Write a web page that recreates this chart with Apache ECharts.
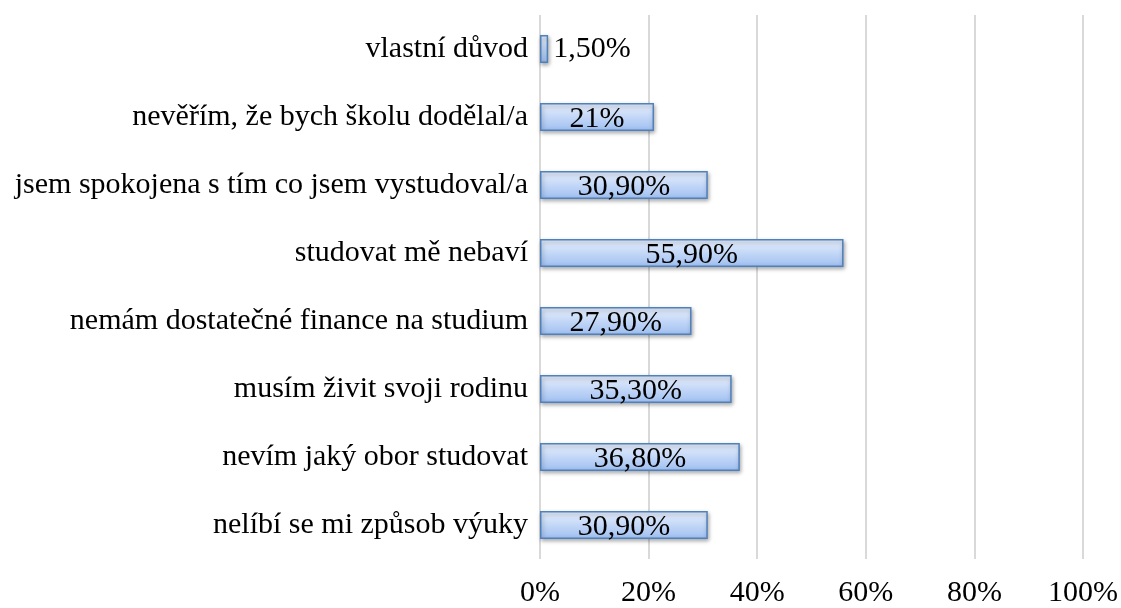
<!DOCTYPE html>
<html>
<head>
<meta charset="utf-8">
<script src="https://cdn.jsdelivr.net/npm/echarts@6/dist/echarts.min.js"></script>
<style>
  html, body { margin: 0; padding: 0; background: #fff; }
  #main { width: 1121px; height: 608px; }
</style>
</head>
<body>
<div id="main"></div>
<script>
// categories from bottom to top (category axis starts at the bottom)
var categories = [
    'nelíbí se mi způsob výuky',
    'nevím jaký obor studovat',
    'musím živit svoji rodinu',
    'nemám dostatečné finance na studium',
    'studovat mě nebaví',
    'jsem spokojena s tím co jsem vystudoval/a',
    'nevěřím, že bych školu dodělal/a',
    'vlastní důvod'
];
var values = [30.9, 36.8, 35.3, 27.9, 55.9, 30.9, 21, 1.5];
var valueLabels = ['30,90%', '36,80%', '35,30%', '27,90%', '55,90%', '30,90%', '21%', '1,50%'];

var chart = echarts.init(document.getElementById('main'));

var fontFamily = '"Liberation Serif", "Times New Roman", serif';

var data = values.map(function(v, i) {
    var item = { value: v };
    // the tiny bar gets its label outside
    if (v < 5) {
        item.label = { position: 'right', distance: 5, offset: [0, 0] };
    }
    return item;
});

var option = {
    animation: false,
    grid: {
        left: 540,
        right: 34,
        top: 15,
        bottom: 47
    },
    xAxis: {
        type: 'value',
        min: 0,
        max: 100,
        interval: 20,
        axisLine: { show: false },
        axisTick: { show: false },
        axisLabel: {
            formatter: '{value}%',
            color: '#000',
            fontSize: 30,
            fontFamily: fontFamily,
            margin: 19
        },
        splitLine: {
            lineStyle: { color: '#d9d9d9', width: 2 }
        }
    },
    yAxis: {
        type: 'category',
        data: categories,
        axisLine: { show: false },
        axisTick: { show: false },
        axisLabel: {
            color: '#000',
            fontSize: 30,
            fontFamily: fontFamily,
            margin: 12
        }
    },
    series: [{
        type: 'bar',
        data: data,
        barWidth: 28,
        itemStyle: {
            color: new echarts.graphic.LinearGradient(0, 0, 0, 1, [
                { offset: 0, color: '#e8f0fd' },
                { offset: 1, color: '#9fbff1' }
            ]),
            borderColor: '#4f81bd',
            borderWidth: 1.5,
            shadowColor: 'rgba(0,0,0,0.35)',
            shadowBlur: 4,
            shadowOffsetX: 1,
            shadowOffsetY: 2
        },
        label: {
            show: true,
            position: 'inside',
            offset: [0, 2],
            color: '#000',
            fontSize: 30,
            fontFamily: fontFamily,
            formatter: function(p) {
                return valueLabels[p.dataIndex];
            }
        }
    }]
};

chart.setOption(option);
</script>
</body>
</html>
